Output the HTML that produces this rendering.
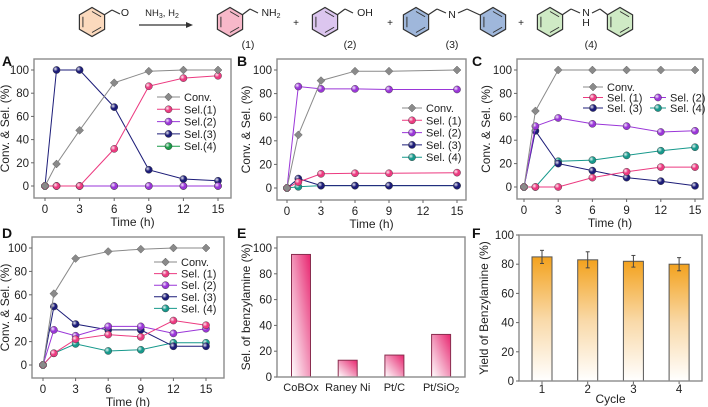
<!DOCTYPE html>
<html><head><meta charset="utf-8">
<style>
body{margin:0;background:#fff;}
svg{display:block;font-family:"Liberation Sans",Arial,sans-serif;}
</style></head>
<body>
<svg id="fig" width="708" height="407" viewBox="0 0 708 407">
<defs>
<radialGradient id="ball" cx="0.35" cy="0.35" r="0.7"><stop offset="0" stop-color="#fff" stop-opacity="0.9"/><stop offset="0.5" stop-color="#fff" stop-opacity="0"/></radialGradient>
<linearGradient id="gE" x1="1" y1="0" x2="0" y2="1"><stop offset="0" stop-color="#e8256f"/><stop offset="0.55" stop-color="#f3a0c0"/><stop offset="1" stop-color="#fff"/></linearGradient>
<linearGradient id="gF" x1="0" y1="0" x2="0" y2="1"><stop offset="0" stop-color="#f3a21e"/><stop offset="0.5" stop-color="#f9d9a8"/><stop offset="1" stop-color="#fff"/></linearGradient>
</defs>
<g id="scheme"></g>
<g id="panels"></g>
</svg>
<script>
const NS="http://www.w3.org/2000/svg";
const svg=document.getElementById('fig');
function mk(tag,attrs,parent,text){const e=document.createElementNS(NS,tag);for(const k in attrs)e.setAttribute(k,attrs[k]);if(text!==undefined)e.textContent=text;(parent||svg).appendChild(e);return e;}

// ---------- data ----------
const timeA=[0,1,3,6,9,12,15];
const convA=[0,19,48,89,99,100,100];
const sel1A=[0,0,0,32,86,93,95];
const sel2A=[0,0,0,0,0,0,0];
const sel3A=[0,100,100,68,14,6,4.5];
const sel4A=[0,0,0,0,0,0,0];
const timeB=[0,1,3,6,9,15];
const convB=[0,45,91,99,99,100];
const sel1B=[0,5,12,12.5,12.5,13];
const sel2B=[0,86,84,84,83.5,83.5];
const sel3B=[0,8,2,2,2,2];
const sel4B=[0,1,2,2,2,2];
const timeC=[0,1,3,6,9,12,15];
const convC=[0,65,100,100,100,100,100];
const sel1C=[0,0,0,8,13,17,17];
const sel2C=[0,52,59,54,52,47,48];
const sel3C=[0,48,20,14,8,5,1];
const sel4C=[0,0,22,23,27,31,34];
const timeD=[0,1,3,6,9,12,15];
const convD=[0,61,91,97,99,100,100];
const sel1D=[0,10,22,26,24,38,34];
const sel2D=[0,30,25,33,33,27,31];
const sel3D=[0,50,35,30,30,16,16];
const sel4D=[0,10,18,12,13,19,19];
const catE=["CoBOx","Raney Ni","Pt/C","Pt/SiO2"];
const valE=[95,13,17,33];
const catF=["1","2","3","4"];
const valF=[85,83,82,80];
const errF=[4.5,5.5,4,4.5];
const xTicks=[0,3,6,9,12,15];
const yTicks=[0,20,40,60,80,100];

const COL={conv:"#8a8a8a",s1:"#ec3a80",s2:"#9a36d8",s3:"#1c1c78",s4:"#17998c"};

// ---------- scheme ----------
const sch=document.getElementById('scheme');
function ring(cx,cy,fill,name){
  const r=14.5;let p=[];for(let i=0;i<6;i++){const a=Math.PI/6+i*Math.PI/3;p.push((cx+r*Math.cos(a)).toFixed(1)+","+(cy+r*Math.sin(a)).toFixed(1));}
  const g=mk('g',{},sch);
  mk('polygon',{points:p.join(' '),fill:fill,stroke:'#333','stroke-width':1.2},g);
  let q=[];for(let i=0;i<6;i++){const a=Math.PI/6+i*Math.PI/3;q.push([cx+10.5*Math.cos(a),cy+10.5*Math.sin(a)]);}
  [[0,1],[2,3],[4,5]].forEach(([a,b])=>mk('line',{x1:q[a][0],y1:q[a][1],x2:q[b][0],y2:q[b][1],stroke:'#333','stroke-width':1},g));
}
function ln(x1,y1,x2,y2){mk('line',{x1,y1,x2,y2,stroke:'#333','stroke-width':1.2},sch);}
function tx(x,y,s,size,anchor){const t=mk('text',{x,y,'font-size':size||10.5,'text-anchor':anchor||'middle',fill:'#222'},sch,s);return t;}
ring(92,22,'#fbd9bd','benzaldehyde');ln(104,15,112,10);ln(112,10,120,14);tx(125,16,'O',10.5);
ln(139,25,186,25);mk('polygon',{points:'186,22 193,25 186,28',fill:'#333'},sch);
const nh3=tx(162,16,'',9.5);nh3.innerHTML='NH<tspan font-size="7" dy="2">3</tspan><tspan dy="-2">, H</tspan><tspan font-size="7" dy="2">2</tspan>';
ring(230,22,'#f7b8c9','benzylamine');ln(242,15,250,9);ln(250,9,258,13);const n2=tx(271,16,'',10.5);n2.innerHTML='NH<tspan font-size="7" dy="2">2</tspan>';
tx(296,26,'+',10);
ring(325,22,'#dcc6ef','benzyl-alcohol');ln(337,15,345,9);ln(345,9,353,13);tx(365,16,'OH',10.5);
tx(390,26,'+',10);
ring(416,22,'#9fb7db','imine-ring-left');ln(428,15,437,9);ln(437,9,446,13);tx(452,18,'N',10.5);ln(458,13,467,9);ln(467,9,480,15);ring(493,22,'#9fb7db','imine-ring-right');
tx(521,26,'+',10);
ring(550,22,'#cfeac5','amine-ring-left');ln(562,15,571,9);ln(571,9,580,13);tx(586,16,'N',10.5);tx(586,26,'H',10.5);ln(592,13,600,9);ln(600,9,608,15);ring(620,22,'#cfeac5','amine-ring-right');
tx(248,48,'(1)',10.5);tx(350,48,'(2)',10.5);tx(452,48,'(3)',10.5);tx(591,48,'(4)',10.5);

// ---------- axes helper ----------
function frame(g,L,R,T,B){const r=mk('rect',{x:L,y:T,width:R-L,height:B-T,fill:'none',stroke:'#8c8c8c','stroke-width':1.4},g);}
function panelLetter(g,x,y,s){const t=mk('text',{x,y,'font-size':14,'font-weight':'bold',fill:'#111'},g,s);}
function yaxis(g,L,sy,ticks,title,tx0,ty0,fs){
  ticks.forEach(v=>{const y=sy(v);mk('line',{x1:L-3,y1:y,x2:L,y2:y,stroke:'#666'},g);
    const t=mk('text',{x:L-5,y:y+4,'font-size':fs||11.5,'text-anchor':'end',fill:'#222'},g,v);});
  const t=mk('text',{x:tx0,y:ty0,'font-size':12,'text-anchor':'middle',fill:'#222',transform:`rotate(-90 ${tx0} ${ty0})`},g,title);
}
function marker(g,x,y,c,kind){
  if(kind==='d'){mk('polygon',{points:`${x},${y-4} ${x+4},${y} ${x},${y+4} ${x-4},${y}`,fill:c,stroke:'#666','stroke-width':0.5},g);}
  else{mk('circle',{cx:x,cy:y,r:3.6,fill:c,stroke:'#333','stroke-width':0.4},g);mk('circle',{cx:x,cy:y,r:3.6,fill:'url(#ball)'},g);}
}
function lineChart(o){
  const g=mk('g',{});
  const sx=v=>o.x0+(v)*(o.x15-o.x0)/15, sy=v=>o.y0-(v)*(o.y0-o.y100)/100;
  panelLetter(g,o.lx,o.ly,o.letter);
  frame(g,o.L,o.R,o.T,o.B);
  xTicks.forEach(v=>{const x=sx(v);mk('line',{x1:x,y1:o.B,x2:x,y2:o.B+3,stroke:'#666'},g);
    const t=mk('text',{x,y:o.B+15,'font-size':11.5,'text-anchor':'middle',fill:'#222'},g,v);});
  const xt=mk('text',{x:(o.L+o.R)/2,y:o.B+28,'font-size':12,'text-anchor':'middle',fill:'#222'},g,'Time (h)');
  yaxis(g,o.L,sy,yTicks,'Conv. & Sel. (%)',o.tx!==undefined?o.tx:o.L-27,(o.T+o.B)/2);
  o.series.slice().reverse().forEach(s=>{
    const sg=mk('g',{},g);
    const pts=s.vals.map((v,i)=>sx(o.t[i]).toFixed(1)+','+sy(v).toFixed(1)).join(' ');
    mk('polyline',{points:pts,fill:'none',stroke:s.c,'stroke-width':1},sg);
    s.vals.forEach((v,i)=>marker(sg,sx(o.t[i]),sy(v),s.c,s.kind));
  });
  o.legend.forEach(e=>{
    const s=o.series[e.i];const lg=mk('g',{},g);
    mk('line',{x1:e.x,y1:e.y,x2:e.x+e.w,y2:e.y,stroke:s.c,'stroke-width':1},lg);
    marker(lg,e.x+e.w/2,e.y,s.c,s.kind);
    mk('text',{x:e.x+e.w+4,y:e.y+4,'font-size':11,fill:'#222'},lg,s.label);
  });
}
function S(key,vals,label,kind){return {key,vals,c:COL[key],label,kind:kind||'o'};}

// Panel A
lineChart({name:'panel-a-chart',letter:'A',lx:2,ly:66,L:34,R:231,T:59,B:198,x0:45,x15:218,y0:186,y100:70,t:timeA,tx:9,
  series:[S('conv',convA,'Conv.','d'),S('s1',sel1A,'Sel.(1)'),S('s2',sel2A,'Sel.(2)'),S('s3',sel3A,'Sel.(3)'),Object.assign(S('s4',sel4A,'Sel.(4)'),{c:'#1a9a48'})],
  legend:[0,1,2,3,4].map(i=>({i,x:157,y:97+i*12.3,w:23}))});
// Panel B
lineChart({name:'panel-b-chart',letter:'B',lx:237,ly:66,L:277,R:466,T:59,B:200,x0:287,x15:457,y0:188,y100:70,t:timeB,
  series:[S('conv',convB,'Conv.','d'),S('s1',sel1B,'Sel. (1)'),S('s2',sel2B,'Sel. (2)'),S('s3',sel3B,'Sel. (3)'),S('s4',sel4B,'Sel. (4)')],
  legend:[0,1,2,3,4].map(i=>({i,x:402,y:108+i*12.3,w:20}))});
// Panel C
lineChart({name:'panel-c-chart',letter:'C',lx:472,ly:66,L:517,R:703,T:59,B:199,x0:524,x15:695,y0:187,y100:70,t:timeC,
  series:[S('conv',convC,'Conv.','d'),S('s1',sel1C,'Sel. (1)'),S('s2',sel2C,'Sel. (2)'),S('s3',sel3C,'Sel. (3)'),S('s4',sel4C,'Sel. (4)')],
  legend:[{i:0,x:583,y:87,w:20},{i:1,x:583,y:97.5,w:20},{i:2,x:650,y:97.5,w:16},{i:3,x:583,y:108,w:20},{i:4,x:650,y:108,w:16}]});
// Panel D
lineChart({name:'panel-d-chart',letter:'D',lx:2,ly:238,L:32,R:224,T:237,B:378,x0:43,x15:206,y0:365,y100:248,t:timeD,tx:9,
  series:[S('conv',convD,'Conv.','d'),S('s1',sel1D,'Sel. (1)'),S('s2',sel2D,'Sel. (2)'),S('s3',sel3D,'Sel. (3)'),S('s4',sel4D,'Sel. (4)')],
  legend:[0,1,2,3,4].map(i=>({i,x:154,y:262+i*11.6,w:23}))});

// Panel E
(function(){
  const g=mk('g',{});
  const L=277,R=465,T=237,B=377,y0=377,y100=248,bw=19;
  const sy=v=>y0-v*(y0-y100)/100, sx=i=>301+i*46.7;
  panelLetter(g,237,238,'E');
  catE.forEach((c,i)=>{const h=y0-sy(valE[i]);const r=mk('rect',{x:sx(i)-bw/2,y:sy(valE[i]),width:bw,height:h,fill:'url(#gE)',stroke:'#8a2d4f','stroke-width':1},g);
    
    const t=mk('text',{x:sx(i),y:B+14,'font-size':11,'text-anchor':'middle',fill:'#222'},g);
    
    if(c==='Pt/SiO2'){t.innerHTML='Pt/SiO<tspan font-size="8" dy="2">2</tspan>';}else t.textContent=c;});
  frame(g,L,R,T,B);
  yaxis(g,L,sy,yTicks,'Sel. of benzylamine (%)',L-27,(T+B)/2);
})();

// Panel F
(function(){
  const g=mk('g',{});
  const L=519,R=702,T=235,B=381,bw=20;
  const sy=v=>B-v*(B-T)/100, sx=i=>542+i*45.7;
  panelLetter(g,472,238,'F');
  catF.forEach((c,i)=>{const r=mk('rect',{x:sx(i)-bw/2,y:sy(valF[i]),width:bw,height:B-sy(valF[i]),fill:'url(#gF)',stroke:'#555','stroke-width':1},g);
    
    const e=mk('g',{},g);
    const y1=sy(valF[i]+errF[i]),y2=sy(valF[i]-errF[i]);
    mk('line',{x1:sx(i),y1,x2:sx(i),y2,stroke:'#444'},e);mk('line',{x1:sx(i)-2,y1,x2:sx(i)+2,y2:y1,stroke:'#444'},e);mk('line',{x1:sx(i)-2,y1:y2,x2:sx(i)+2,y2,stroke:'#444'},e);
    mk('line',{x1:sx(i),y1:B,x2:sx(i),y2:B+3,stroke:'#666'},g);
    const t=mk('text',{x:sx(i),y:B+12,'font-size':11.5,'text-anchor':'middle',fill:'#222'},g,c);});
  frame(g,L,R,T,B);
  const xt=mk('text',{x:(L+R)/2,y:B+22,'font-size':12,'text-anchor':'middle',fill:'#222'},g,'Cycle');
  yaxis(g,L,sy,yTicks,'Yield of Benzylamine (%)',L-31,(T+B)/2);
})();
</script>
</body></html>
